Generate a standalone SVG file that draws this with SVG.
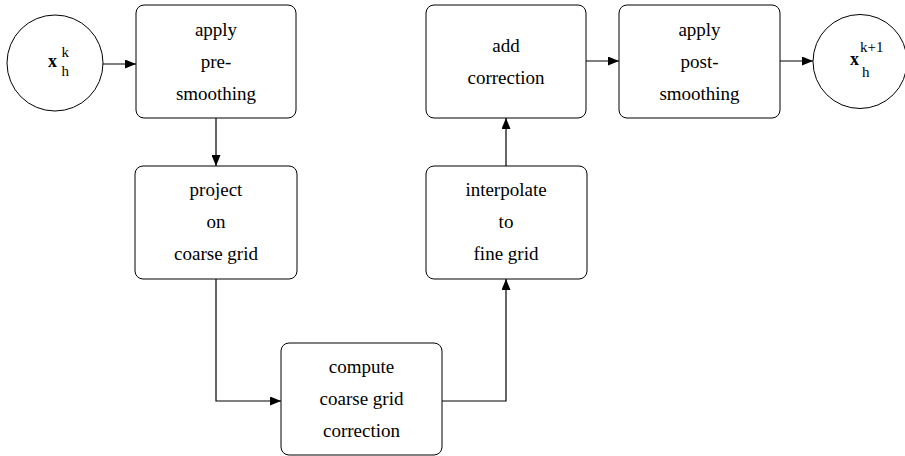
<svg xmlns="http://www.w3.org/2000/svg" width="905" height="456" viewBox="0 0 905 456">
<defs>
<marker id="arr" markerWidth="11" markerHeight="9" refX="11" refY="4.5" orient="auto" markerUnits="userSpaceOnUse">
<path d="M0,0 L11,4.5 L0,9 Z" fill="#000"/>
</marker>
<style>
.box{fill:#fff;stroke:#000;stroke-width:1}
.c{fill:#fff;stroke:#000;stroke-width:1}
.t{font-size:19px;text-anchor:middle;fill:#000}
.m{fill:#000}
.ln{fill:none;stroke:#000;stroke-width:1.2;marker-end:url(#arr)}
</style>
</defs>
<g id="connectors">
<path class="ln" d="M103,64 L136,64"/>
<path class="ln" d="M216,118 L216,166"/>
<path class="ln" d="M216,279 L216,401 L281,401"/>
<path class="ln" d="M442,401 L506,401 L506,279"/>
<path class="ln" d="M506,166 L506,118"/>
<path class="ln" d="M586,61 L619,61"/>
<path class="ln" d="M780,61 L813,61"/>
</g>
<g font-family="Liberation Serif, DejaVu Serif, serif">
<g id="xk">
<circle class="c" cx="55" cy="63" r="48"/>
<text class="m" x="48" y="67" font-size="18" font-weight="bold">x</text>
<text class="m" x="61.5" y="57" font-size="15">k</text>
<text class="m" x="61.5" y="76" font-size="15">h</text>
</g>
<g id="presmooth">
<rect class="box" x="136" y="5" width="160" height="113" rx="8"/>
<text class="t" x="216" y="36">apply</text>
<text class="t" x="216" y="68">pre-</text>
<text class="t" x="216" y="100">smoothing</text>
</g>
<g id="project">
<rect class="box" x="135" y="166" width="162" height="113" rx="8"/>
<text class="t" x="216" y="196">project</text>
<text class="t" x="216" y="228">on</text>
<text class="t" x="216" y="260">coarse grid</text>
</g>
<g id="compute">
<rect class="box" x="281" y="343" width="161" height="112" rx="8"/>
<text class="t" x="361.5" y="373">compute</text>
<text class="t" x="361.5" y="405">coarse grid</text>
<text class="t" x="361.5" y="437">correction</text>
</g>
<g id="interpolate">
<rect class="box" x="426" y="166" width="161" height="113" rx="8"/>
<text class="t" x="506" y="196">interpolate</text>
<text class="t" x="506" y="228">to</text>
<text class="t" x="506" y="260">fine grid</text>
</g>
<g id="addcorr">
<rect class="box" x="426" y="5" width="160" height="113" rx="8"/>
<text class="t" x="506" y="52">add</text>
<text class="t" x="506" y="84">correction</text>
</g>
<g id="postsmooth">
<rect class="box" x="619" y="5" width="161" height="113" rx="8"/>
<text class="t" x="699.5" y="36">apply</text>
<text class="t" x="699.5" y="68">post-</text>
<text class="t" x="699.5" y="100">smoothing</text>
</g>
<g id="xk1">
<circle class="c" cx="860" cy="61.5" r="47"/>
<text class="m" x="850" y="65" font-size="18" font-weight="bold">x</text>
<text class="m" x="860" y="52" font-size="15">k+1</text>
<text class="m" x="862" y="77" font-size="15">h</text>
</g>
</g>
</svg>
